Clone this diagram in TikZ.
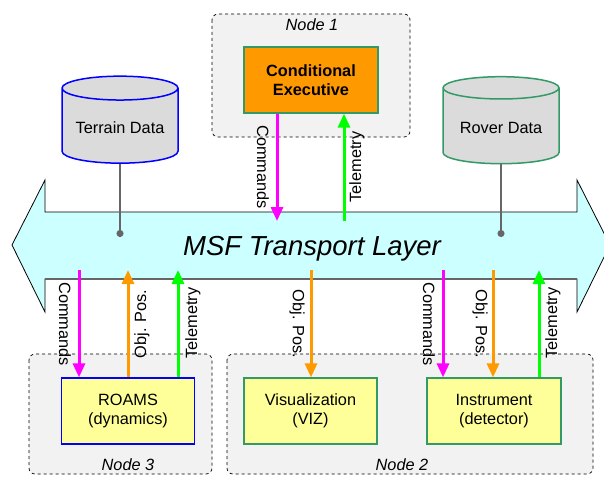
\documentclass[tikz,border=0pt]{standalone}
\usepackage{fontspec}
\setmainfont{Liberation Sans}
\usetikzlibrary{arrows.meta,shapes.geometric}
\definecolor{layercyan}{RGB}{204,255,255}
\definecolor{execorange}{RGB}{255,153,0}
\definecolor{boxyellow}{RGB}{255,255,153}
\definecolor{edgegreen}{RGB}{51,153,102}
\definecolor{telegreen}{RGB}{0,255,0}
\definecolor{cmdmagenta}{RGB}{255,0,255}
\definecolor{posorange}{RGB}{255,153,0}
\definecolor{dbgray}{RGB}{102,102,102}
\tikzset{
  txt/.style={font=\fontsize{16.3}{19}\selectfont, align=center},
  hostbox/.style={draw, dashed, rounded corners=6pt, fill=black!5, line width=0.7pt},
  hostname/.style={txt, font=\fontsize{16.3}{19}\selectfont\itshape},
  module/.style={txt, draw, line width=1.3pt, minimum width=133pt, minimum height=66pt, fill=boxyellow},
  db/.style={txt, cylinder, shape border rotate=90, aspect=0.25, draw, line width=1.5pt, fill=black!14, minimum width=116pt, minimum height=87pt},
  flow/.style={line width=3pt, -{Triangle[width=12pt,length=14pt]}},
  cmdflow/.style={flow, cmdmagenta},
  posflow/.style={flow, posorange},
  teleflow/.style={flow, telegreen},
  rotdown/.style={txt, rotate=-90},
  rotup/.style={txt, rotate=90},
  dbline/.style={dbgray, line width=1.5pt, -{Circle[length=7pt]}}
}
\begin{document}
\begin{tikzpicture}[x=1pt,y=-1pt]
\useasboundingbox (0,0) rectangle (604,476);

\draw[hostbox] (212,14) rectangle (410,137);
\draw[hostbox] (29,354) rectangle (212,474);
\draw[hostbox] (227,354) rectangle (593,474);
\node[hostname] (n1) at (312,25) {Node 1};
\node[hostname] (n3) at (128,465) {Node 3};
\node[hostname] (n2) at (402,465) {Node 2};

\draw[fill=layercyan, line width=0.8pt] (12,245) -- (45,180) -- (45,212) -- (577,212) -- (577,180) -- (610,245)
  -- (577,312) -- (577,279) -- (45,279) -- (45,312) -- cycle;
\draw[dbgray, line width=1.2pt] (45,279) -- (577,279);
\node[font=\fontsize{27.5}{30}\selectfont\itshape, anchor=base] (msf) at (312,255) {MSF Transport Layer};

\node[txt, draw=edgegreen, line width=1.3pt, fill=execorange, font=\fontsize{16.3}{19}\selectfont\bfseries,
  minimum width=134pt, minimum height=66pt] (exec) at (311,80) {Conditional\\Executive};
\node[db, draw=blue] (terrain) at (120,128) {Terrain Data};
\node[db, draw=edgegreen] (rover) at (501,128) {Rover Data};
\node[module, draw=blue] (roams) at (128,411) {ROAMS\\(dynamics)};
\node[module, draw=edgegreen] (viz) at (310.5,411) {Visualization\\(VIZ)};
\node[module, draw=edgegreen, minimum width=134pt] (instr) at (494,411) {Instrument\\(detector)};

\coordinate (tdot) at (120,237);
\coordinate (rdot) at (501,237);
\coordinate (t1) at (277,221);
\coordinate (t2) at (344,221);
\coordinate (b1) at (79,270);
\coordinate (b2) at (128,270);
\coordinate (b3) at (178,270);
\coordinate (b4) at (311,270);
\coordinate (b5) at (443,270);
\coordinate (b6) at (493,270);
\coordinate (b7) at (539,270);

\draw[dbline] (terrain.south) -- (tdot);
\draw[dbline] (rover.south) -- (rdot);

\draw[cmdflow] (exec.south -| t1) -- (t1);
\draw[teleflow] (t2) -- (exec.south -| t2);
\draw[cmdflow] (b1) -- (roams.north -| b1);
\draw[posflow] (roams.north -| b2) -- (b2);
\draw[teleflow] (roams.north -| b3) -- (b3);
\draw[posflow] (b4) -- (viz.north -| b4);
\draw[cmdflow] (b5) -- (instr.north -| b5);
\draw[posflow] (b6) -- (instr.north -| b6);
\draw[teleflow] (instr.north -| b7) -- (b7);

\node[rotdown] (l1) at (263,167) {Commands};
\node[rotup] (l2) at (357,167) {Telemetry};
\node[rotdown] (l3) at (65,324) {Commands};
\node[rotup] (l4) at (142,324) {Obj. Pos.};
\node[rotup] (l5) at (193,323) {Telemetry};
\node[rotdown] (l6) at (297,324) {Obj. Pos.};
\node[rotdown] (l7) at (429,324) {Commands};
\node[rotdown] (l8) at (480,324) {Obj. Pos.};
\node[rotup] (l9) at (553,323) {Telemetry};
\end{tikzpicture}
\end{document}
